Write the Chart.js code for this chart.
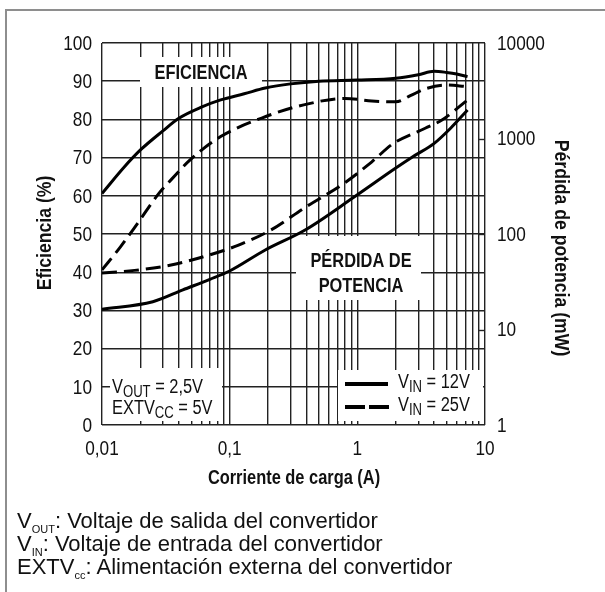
<!DOCTYPE html>
<html>
<head>
<meta charset="utf-8">
<script src="https://cdn.jsdelivr.net/npm/chart.js@4.4.1/dist/chart.umd.min.js"></script>
<style>
  html, body { margin: 0; padding: 0; background: #fff; }
  #wrap { position: relative; width: 605px; height: 592px; overflow: hidden; }
  #frame { position: absolute; left: 5px; top: 9px; width: 640px; height: 640px;
           border-top: 2px solid #8e8e8e; border-left: 2px solid #8e8e8e; }
  canvas { position: absolute; left: 0; top: 0; }
  .notes { position: absolute; left: 17px; top: 509px; color: #111; white-space: nowrap;
           font: 22px 'Liberation Sans', Arial, sans-serif; line-height: 23px; }
  .notes .s { font-size: 11px; line-height: 0; position: relative; top: 5px; }
</style>
</head>
<body>
<div id="wrap">
  <div id="frame"></div>
  <canvas id="c" width="605" height="592"></canvas>
  <div class="notes">V<span class="s">OUT</span>: Voltaje de salida del convertidor<br>V<span class="s">IN</span>: Voltaje de entrada del convertidor<br>EXTV<span class="s">cc</span>: Alimentación externa del convertidor</div>
</div>
<script>
// Load current (A) for each curve
const eff12Current  = [0.01, 0.015, 0.02, 0.03, 0.04, 0.06, 0.085, 0.13, 0.19, 0.3, 0.5, 1, 2, 3, 4, 5, 6, 7.3];
const eff12Percent  = [60.6, 67.6, 72, 77, 80.3, 83.2, 85.1, 86.7, 88.2, 89.3, 90, 90.3, 90.8, 91.7, 92.6, 92.3, 91.9, 91.2];

const eff25Current  = [0.01, 0.014, 0.019, 0.028, 0.035, 0.049, 0.085, 0.19, 0.38, 0.8, 1.3, 2, 2.6, 3.4, 5, 7.1];
const eff25Percent  = [40.6, 46.7, 52.8, 60.7, 64.3, 69.4, 75.5, 80.7, 83.8, 85.5, 84.8, 84.6, 86.2, 88, 89, 88.6];

const loss12Current = [0.01, 0.025, 0.043, 0.07, 0.1, 0.19, 0.39, 0.95, 2, 2.7, 4, 5.4, 7.3];
const loss12mW      = [16.3, 19.5, 26, 33.5, 41, 68, 110, 245, 490, 640, 890, 1290, 1990];

const loss25Current = [0.01, 0.018, 0.034, 0.063, 0.116, 0.21, 0.39, 0.79, 1.3, 1.9, 3.4, 4.6, 7.3];
const loss25mW      = [39, 41.6, 47, 58, 76, 110, 190, 340, 570, 880, 1280, 1560, 2530];

// Axis ticks
const xGridValues     = [0.01,0.02,0.03,0.04,0.05,0.06,0.07,0.08,0.09,
                         0.1,0.2,0.3,0.4,0.5,0.6,0.7,0.8,0.9,
                         1,2,3,4,5,6,7,8,9,10];
const xTickValues     = [0.01, 0.1, 1, 10];
const xTickLabels     = ['0,01', '0,1', '1', '10'];
const effTickValues   = [0, 10, 20, 30, 40, 50, 60, 70, 80, 90, 100];
const effTickLabels   = ['0', '10', '20', '30', '40', '50', '60', '70', '80', '90', '100'];
const lossTickValues  = [1, 10, 100, 1000, 10000];
const lossTickLabels  = ['1', '10', '100', '1000', '10000'];

const SANS = "'Liberation Sans', Arial, sans-serif";
const SQUEEZE = 0.82;          // horizontal squeeze giving a narrow Helvetica look
const INK = '#111';
const GRID = '#222';

const pts = (xs, ys) => xs.map((x, i) => ({ x, y: ys[i] }));

function curve(label, xs, ys, axis, dashed) {
  return {
    label, data: pts(xs, ys), yAxisID: axis,
    borderColor: '#000', borderWidth: 3, borderDash: dashed ? [15, 7] : [],
    pointRadius: 0, fill: false, cubicInterpolationMode: 'monotone'
  };
}

// Narrow text: draws with a horizontal squeeze around the anchor point
function narrow(ctx, text, x, y, font, align, baseline, sx) {
  ctx.save();
  ctx.font = font;
  ctx.textAlign = align;
  ctx.textBaseline = baseline;
  ctx.translate(x, y);
  ctx.scale(sx || SQUEEZE, 1);
  ctx.fillText(text, 0, 0);
  ctx.restore();
}

// Narrow text made of [text, isSubscript] runs, left aligned on a baseline
function runs(ctx, parts, x, y, size, subSize, subDrop) {
  let cx = x;
  for (const [t, sub] of parts) {
    const font = (sub ? subSize : size) + 'px ' + SANS;
    narrow(ctx, t, cx, sub ? y + subDrop : y, font, 'left', 'alphabetic');
    ctx.font = font;
    cx += ctx.measureText(t).width * SQUEEZE;
  }
}

const decor = {
  id: 'decor',
  beforeDatasetsDraw(chart) {
    const { ctx, chartArea: a } = chart;
    ctx.save();
    ctx.fillStyle = '#fff';
    ctx.fillRect(a.left + 38, a.top + 14, 122, 30);    // EFICIENCIA
    ctx.fillRect(a.left + 194, a.top + 193, 125, 64);  // PÉRDIDA DE POTENCIA
    ctx.fillRect(a.left + 8, a.top + 325, 112, 53);    // operating conditions
    ctx.fillRect(a.left + 236, a.top + 327, 145, 51);  // legend
    ctx.restore();
  },
  afterDatasetsDraw(chart) {
    const { ctx, chartArea: a, scales } = chart;
    ctx.save();
    ctx.fillStyle = INK;

    // inner ticks of the power-loss axis
    ctx.strokeStyle = GRID;
    ctx.lineWidth = 1.4;
    [10, 100, 1000].forEach(v => {
      const y = Math.round(scales.y2.getPixelForValue(v)) + 0.5;
      ctx.beginPath(); ctx.moveTo(a.right - 6, y); ctx.lineTo(a.right, y); ctx.stroke();
    });

    // tick labels
    const tickFont = '21px ' + SANS;
    effTickValues.forEach((v, i) =>
      narrow(ctx, effTickLabels[i], a.left - 10, scales.y.getPixelForValue(v) + 1, tickFont, 'right', 'middle'));
    lossTickValues.forEach((v, i) =>
      narrow(ctx, lossTickLabels[i], a.right + 12, scales.y2.getPixelForValue(v) + 1, tickFont, 'left', 'middle'));
    xTickValues.forEach((v, i) =>
      narrow(ctx, xTickLabels[i], scales.x.getPixelForValue(v), a.bottom + 24, tickFont, 'center', 'middle'));

    // curve group labels
    const boldLbl = 'bold 20px ' + SANS;
    narrow(ctx, 'EFICIENCIA', a.left + 99, a.top + 36, boldLbl, 'center', 'alphabetic');
    narrow(ctx, 'PÉRDIDA DE', a.left + 259, a.top + 224, boldLbl, 'center', 'alphabetic');
    narrow(ctx, 'POTENCIA', a.left + 259, a.top + 249, boldLbl, 'center', 'alphabetic');

    // operating conditions
    runs(ctx, [['V', false], ['OUT', true], [' = 2,5V', false]], a.left + 10, a.top + 350, 20, 16, 4);
    runs(ctx, [['EXTV', false], ['CC', true], [' = 5V', false]], a.left + 10, a.top + 371, 20, 16, 4);

    // legend
    ctx.strokeStyle = '#000';
    ctx.lineWidth = 4;
    ctx.beginPath(); ctx.moveTo(a.left + 243, a.top + 341); ctx.lineTo(a.left + 286, a.top + 341); ctx.stroke();
    ctx.setLineDash([20, 4]);
    ctx.beginPath(); ctx.moveTo(a.left + 243, a.top + 364); ctx.lineTo(a.left + 287, a.top + 364); ctx.stroke();
    ctx.setLineDash([]);
    runs(ctx, [['V', false], ['IN', true], [' = 12V', false]], a.left + 296, a.top + 345, 20, 16, 4);
    runs(ctx, [['V', false], ['IN', true], [' = 25V', false]], a.left + 296, a.top + 368, 20, 16, 4);

    // axis titles
    narrow(ctx, 'Corriente de carga (A)', 294, 478, 'bold 20px ' + SANS, 'center', 'middle');
    ctx.save();
    ctx.translate(45, 233); ctx.rotate(-Math.PI / 2);
    narrow(ctx, 'Eficiencia (%)', 0, 0, 'bold 21px ' + SANS, 'center', 'middle', 0.84);
    ctx.restore();
    ctx.save();
    ctx.translate(561, 248); ctx.rotate(Math.PI / 2);
    narrow(ctx, 'Pérdida de potencia (mW)', 0, 0, 'bold 21px ' + SANS, 'center', 'middle', 0.84);
    ctx.restore();

    ctx.restore();
  }
};

new Chart(document.getElementById('c'), {
  type: 'line',
  data: {
    datasets: [
      curve('Eficiencia, VIN = 12V', eff12Current, eff12Percent, 'y', false),
      curve('Eficiencia, VIN = 25V', eff25Current, eff25Percent, 'y', true),
      curve('Pérdida de potencia, VIN = 12V', loss12Current, loss12mW, 'y2', false),
      curve('Pérdida de potencia, VIN = 25V', loss25Current, loss25mW, 'y2', true)
    ]
  },
  options: {
    responsive: false,
    devicePixelRatio: 1,
    animation: false,
    events: [],
    layout: { padding: { top: 43, left: 0, right: 0, bottom: 0 } },
    plugins: { legend: { display: false }, tooltip: { enabled: false }, title: { display: false } },
    scales: {
      x: {
        type: 'logarithmic', min: 0.01, max: 10,
        afterBuildTicks: s => { s.ticks = xGridValues.map(v => ({ value: v })); },
        afterFit: s => { s.height = 592 - 425; },
        ticks: { display: false, autoSkip: false },
        grid: { color: GRID, lineWidth: 1.4, drawTicks: false },
        border: { display: false }
      },
      y: {
        type: 'linear', position: 'left', min: 0, max: 100,
        afterBuildTicks: s => { s.ticks = effTickValues.map(v => ({ value: v })); },
        afterFit: s => { s.width = 102; },
        ticks: { display: false },
        grid: { color: GRID, lineWidth: 1.4, drawTicks: false },
        border: { display: false }
      },
      y2: {
        type: 'logarithmic', position: 'right', min: 1, max: 10000,
        afterBuildTicks: s => { s.ticks = lossTickValues.map(v => ({ value: v })); },
        afterFit: s => { s.width = 120; },
        ticks: { display: false },
        grid: { drawOnChartArea: false, drawTicks: false },
        border: { display: false }
      }
    }
  },
  plugins: [decor]
});
</script>
</body>
</html>
